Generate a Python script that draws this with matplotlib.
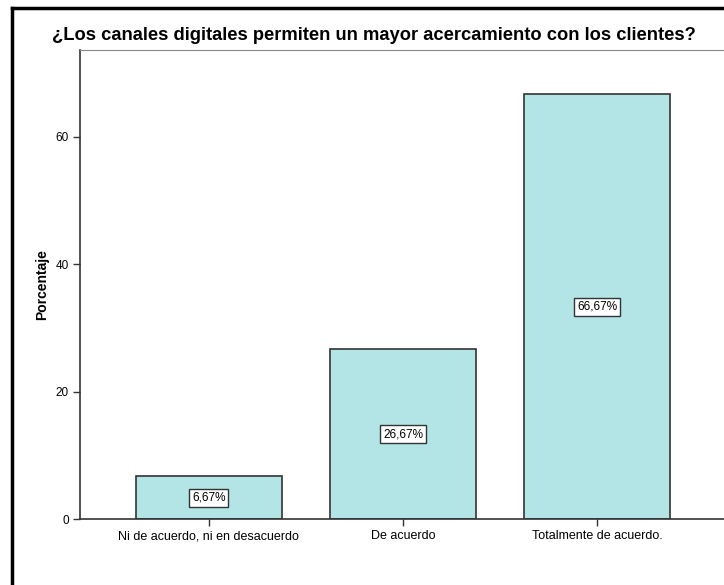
import matplotlib
matplotlib.use('Agg')
import matplotlib.pyplot as plt
from matplotlib.lines import Line2D

plt.rcParams['font.family'] = ['Liberation Sans', 'DejaVu Sans']

categorias = ['Ni de acuerdo, ni en desacuerdo', 'De acuerdo', 'Totalmente de acuerdo.']
porcentajes = [6.67, 26.67, 66.67]
etiquetas = ['6,67%', '26,67%', '66,67%']
yticks = [0, 20, 40, 60]

W, H = 724, 585
fig = plt.figure(figsize=(W/100, H/100), dpi=100)
ax = fig.add_axes([80/W, 66/H, (726-80)/W, (519-50)/H])

x = list(range(len(categorias)))
ax.bar(x, porcentajes, width=0.75, color='#b3e5e6', edgecolor='#333333', linewidth=1.2, zorder=2)
for xi, v, lab in zip(x, porcentajes, etiquetas):
    ax.text(xi, v/2, lab, ha='center', va='center', fontsize=8.5, zorder=3,
            bbox=dict(boxstyle='square,pad=0.25', fc='white', ec='#333333', lw=1))

ax.set_xlim(-0.663, 2.663)
ax.set_ylim(0, 73.6)
ax.set_xticks(x)
ax.set_xticklabels(categorias, fontsize=9)
ax.set_yticks(yticks)
ax.set_yticklabels([str(t) for t in yticks], fontsize=8.5)
ax.tick_params(axis='both', direction='out', length=5, width=1, color='#333333', pad=3)
ax.set_ylabel('Porcentaje', fontsize=10, fontweight='bold', labelpad=5)
for s in ['left', 'bottom']:
    ax.spines[s].set_color('#333333')
    ax.spines[s].set_linewidth(1.2)
ax.spines['top'].set_color('#888888')
ax.spines['right'].set_visible(False)

fig.text(52/W, 1-36/H, '¿Los canales digitales permiten un mayor acercamiento con los clientes?',
         ha='left', va='center', fontsize=13.25, fontweight='bold')

# marco exterior
fig.add_artist(Line2D([12/W, 12/W], [0, 1-8/H], color='black', lw=2.5))
fig.add_artist(Line2D([12/W, 1], [1-8/H, 1-8/H], color='black', lw=2.5))

fig.savefig('out.png', dpi=100)
